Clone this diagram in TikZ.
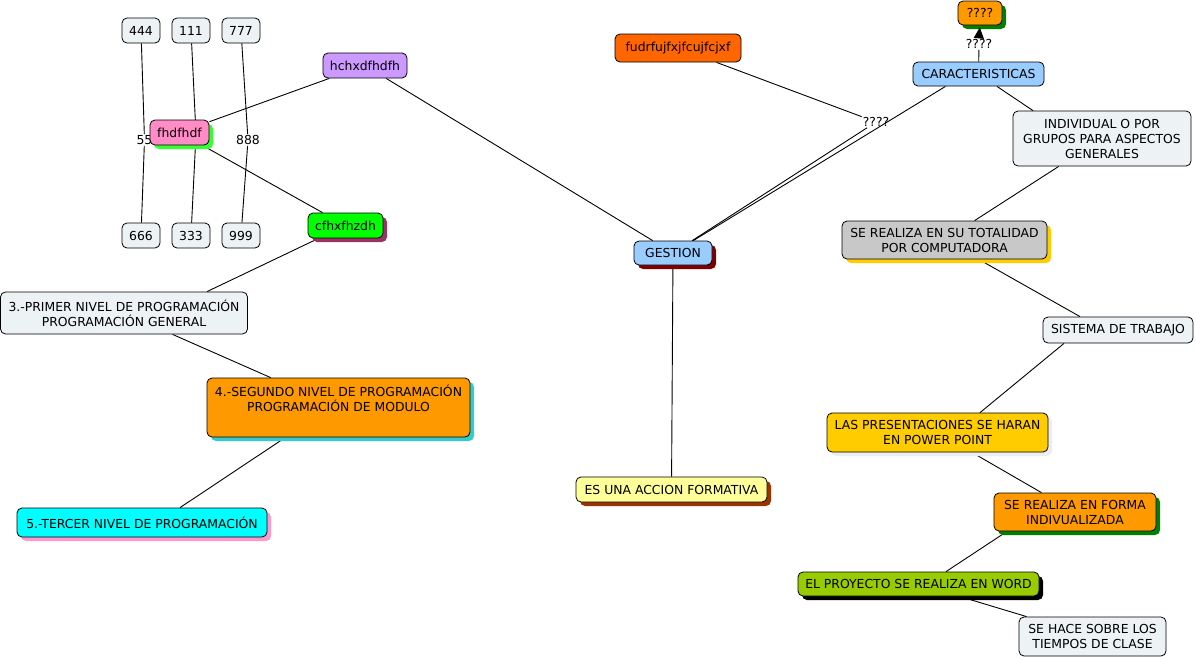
\documentclass[tikz,border=0pt]{standalone}
\usepackage{fontspec}
\setmainfont{DejaVu Sans}
\usetikzlibrary{shadows,arrows.meta,backgrounds}
\definecolor{lite}{RGB}{237,242,245}
\definecolor{lav}{RGB}{204,153,255}
\definecolor{pinkc}{RGB}{255,140,198}
\definecolor{brgreen}{RGB}{51,255,51}
\definecolor{plum}{RGB}{153,51,102}
\definecolor{orangec}{RGB}{255,153,0}
\definecolor{tealc}{RGB}{51,204,204}
\definecolor{pinksh}{RGB}{255,153,204}
\definecolor{redor}{RGB}{255,102,0}
\definecolor{dgreen}{RGB}{0,128,0}
\definecolor{skyc}{RGB}{153,204,255}
\definecolor{greyc}{RGB}{200,200,200}
\definecolor{goldc}{RGB}{255,204,0}
\definecolor{lime}{RGB}{153,204,0}
\definecolor{maroonc}{RGB}{128,0,0}
\definecolor{yel}{RGB}{255,255,153}
\definecolor{brownc}{RGB}{153,51,0}
\definecolor{faint}{RGB}{235,238,240}
\definecolor{cyanc}{RGB}{0,255,255}
\definecolor{greenc}{RGB}{0,255,0}
\tikzset{
  cbox/.style={draw=black, line width=0.8pt, rounded corners=5pt, inner sep=0pt,
    align=center, font=\fontsize{12.4}{15}\selectfont, text=black},
  lab/.style={inner sep=1pt, font=\fontsize{12.4}{15}\selectfont, text=black},
  link/.style={draw=black, line width=0.9pt},
  shad/.style={drop shadow={shadow xshift=4pt, shadow yshift=-4pt, fill=#1, opacity=1}},
}
\begin{document}
\begin{tikzpicture}[x=1pt,y=-1pt]
\useasboundingbox (0,0) rectangle (1196,659);

% number boxes
\node[cbox, fill=lite, minimum width=38pt, minimum height=25pt] (n444) at (141,30.5) {444};
\node[cbox, fill=lite, minimum width=38pt, minimum height=25pt] (n111) at (191,30.5) {111};
\node[cbox, fill=lite, minimum width=38pt, minimum height=25pt] (n777) at (241,30.5) {777};
\node[cbox, fill=lite, minimum width=38pt, minimum height=25pt] (n666) at (141,235.5) {666};
\node[cbox, fill=lite, minimum width=38pt, minimum height=25pt] (n333) at (191,235.5) {333};
\node[cbox, fill=lite, minimum width=38pt, minimum height=25pt] (n999) at (241,235.5) {999};
\node[lab] (l55) at (144.5,140) {55};
\node[lab] (l888) at (248,140) {888};
\coordinate (h111) at (196,134);

\node[cbox, fill=pinkc, shad=brgreen, minimum width=59pt, minimum height=25pt] (fhd) at (179.5,132.5) {fhdfhdf};
\node[cbox, fill=lav, minimum width=84pt, minimum height=25pt] (hch) at (365,65.5) {hchxdfhdfh};
\node[cbox, fill=greenc, shad=plum, minimum width=75pt, minimum height=25pt] (cfh) at (345.5,225.5) {cfhxfhzdh};

\node[cbox, fill=lite, minimum width=247pt, minimum height=42pt] (p3) at (124,313) {3.-PRIMER NIVEL DE PROGRAMACIÓN\\PROGRAMACIÓN GENERAL};
\node[cbox, fill=orangec, shad=tealc, minimum width=263pt, minimum height=59pt] (p4) at (338.5,407.5) {4.-SEGUNDO NIVEL DE PROGRAMACIÓN\\PROGRAMACIÓN DE MODULO\\\strut};
\node[cbox, fill=cyanc, shad=pinksh, minimum width=250pt, minimum height=29pt] (p5) at (142,522.5) {5.-TERCER NIVEL DE PROGRAMACIÓN};

\node[cbox, fill=redor, minimum width=126pt, minimum height=28pt] (fud) at (678,48) {fudrfujfxjfcujfcjxf};
\node[lab] (lq1) at (876,122) {????};
\node[cbox, fill=skyc, shad=maroonc, minimum width=78pt, minimum height=24pt] (ges) at (673,253) {GESTION};
\node[cbox, fill=yel, shad=brownc, minimum width=191pt, minimum height=25pt] (acc) at (671.5,489.5) {ES UNA ACCION FORMATIVA};

\node[cbox, fill=orangec, shad=dgreen, minimum width=44pt, minimum height=24pt] (top) at (980,13) {????};
\node[lab] (lq2) at (979,44) {????};
\node[cbox, fill=skyc, minimum width=131pt, minimum height=24pt] (car) at (978.5,74) {CARACTERISTICAS};
\node[cbox, fill=lite, minimum width=178pt, minimum height=55pt] (ind) at (1102,138.5) {INDIVIDUAL O POR\\GRUPOS PARA ASPECTOS\\GENERALES};
\node[cbox, fill=greyc, shad=goldc, minimum width=205pt, minimum height=38pt] (tot) at (944.5,240) {SE REALIZA EN SU TOTALIDAD\\POR COMPUTADORA};
\node[cbox, fill=lite, minimum width=150pt, minimum height=26pt] (sis) at (1118,330) {SISTEMA DE TRABAJO};
\node[cbox, fill=goldc, shad=faint, minimum width=221pt, minimum height=39pt] (pres) at (937.5,432.5) {LAS PRESENTACIONES SE HARAN\\EN POWER POINT};
\node[cbox, fill=orangec, shad=dgreen, minimum width=162pt, minimum height=38pt] (forma) at (1075,512) {SE REALIZA EN FORMA\\INDIVUALIZADA};
\node[cbox, fill=lime, shad=black, minimum width=241pt, minimum height=24pt] (proy) at (918.5,584) {EL PROYECTO SE REALIZA EN WORD};
\node[cbox, fill=lite, minimum width=147pt, minimum height=39pt] (hace) at (1092.5,636.5) {SE HACE SOBRE LOS\\TIEMPOS DE CLASE};

\begin{scope}[on background layer]
\fill[white] (0,0) rectangle (1196,659);
\draw[link] (n444) -- (l55) -- (n666);
\draw[link] (n111) -- (h111) -- (n333);
\draw[link] (n777) -- (l888) -- (n999);
\draw[link] (hch) -- (fhd);
\draw[link] (hch) -- (ges);
\draw[link] (fhd) -- (cfh);
\draw[link] (cfh) -- ([xshift=83pt]p3.north);
\draw[link] (p3) -- (p4);
\draw[link] ([xshift=-53pt]p4.south) -- ([xshift=38pt]p5.north);
\draw[link] (fud) -- (lq1) -- (ges);
\draw[link] (ges) -- ([xshift=-33pt]car.south);
\draw[link] (car) -- (lq2);
\end{scope}
\draw[link, -{Triangle[length=11pt,width=10pt]}, shorten >=2pt] ([yshift=2pt]lq2.north) -- (top.south);
\begin{scope}[on background layer]
\draw[link] (car) -- ([xshift=-69pt]ind.north);
\draw[link] (ind) -- (tot);
\draw[link] (tot) -- ([xshift=-38pt]sis.north);
\draw[link] ([xshift=-54pt]sis.south) -- ([xshift=42.5pt]pres.north);
\draw[link] (pres) -- (forma);
\draw[link] ([xshift=-68pt]forma.south) -- ([xshift=27.5pt]proy.north);
\draw[link] (proy) -- (hace);
\draw[link] (ges) -- (acc);
\end{scope}
\end{tikzpicture}
\end{document}
